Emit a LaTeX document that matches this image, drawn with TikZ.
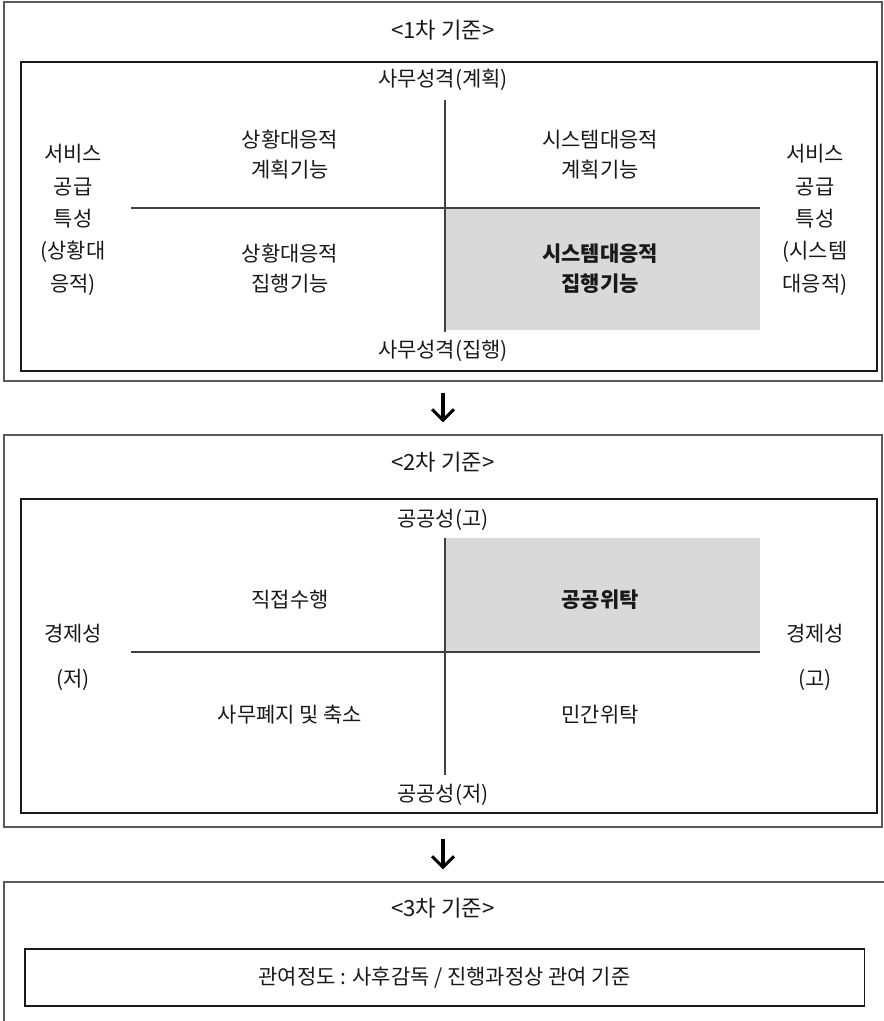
\documentclass[tikz,border=0pt]{standalone}
\usepackage{fontspec}
\setmainfont{Noto Sans CJK KR}
\usetikzlibrary{fit,arrows.meta}

\begin{document}
\begin{tikzpicture}[
        x=0.03cm, y=-0.03cm,
        every node/.style={font=\fontsize{17.9}{25.5}\selectfont, text=black!90},
        txt/.style={align=center, inner sep=0pt},
        strong/.style={txt, font=\fontsize{17.9}{25.5}\selectfont\bfseries},
        side/.style={txt, font=\fontsize{17.9}{27.6}\selectfont},
        econ/.style={txt, font=\fontsize{17.9}{38.3}\selectfont},
        outerbox/.style={draw=black!65, line width=1pt, inner sep=0pt},
        innerbox/.style={draw=black!90, line width=0.9pt, inner sep=0pt},
        axis/.style={draw=black!75, line width=0.9pt},
        shade/.style={fill=black!15},
        flow/.style={line width=2.6pt, -{Straight Barb[length=0.33cm, width=0.66cm]},
            shorten <=0.33cm, shorten >=0.36cm}
    ]
        \useasboundingbox (0,0) rectangle (883,1021);

        % first criterion
        \node[outerbox, fit={(4,2) (882,381)}] (stage1) {};
        \node[innerbox, fit={(21,62) (877,371)}] (grid1) {};
        \node[txt, font=\fontsize{19}{25.5}\selectfont] (title1) at (443,30) {<1차 기준>};
        \fill[shade] (445,208) rectangle (760,330);
        \draw[axis] (445,100) -- (445,332);
        \draw[axis] (131,208) -- (760,208);
        \node[txt] (plan) at (443,80) {사무성격(계획)};
        \node[txt] (exec) at (443,351) {사무성격(집행)};
        \node[txt] (sitplan) at (290,155) {상황대응적\\계획기능};
        \node[txt] (sysplan) at (600,155) {시스템대응적\\계획기능};
        \node[txt] (sitexec) at (290,269) {상황대응적\\집행기능};
        \node[strong] (sysexec) at (600,269) {시스템대응적\\집행기능};
        \node[side] (supsit) at (73,220) {서비스\\공급\\특성\\(상황대\\응적)};
        \node[side] (supsys) at (815,220) {서비스\\공급\\특성\\(시스템\\대응적)};

        % second criterion
        \node[outerbox, fit={(4,435) (882,827)}] (stage2) {};
        \node[innerbox, fit={(21,499) (877,813)}] (grid2) {};
        \node[txt, font=\fontsize{19}{25.5}\selectfont] (title2) at (443,462) {<2차 기준>};
        \fill[shade] (445,538) rectangle (760,652);
        \draw[axis] (445,538) -- (445,775);
        \draw[axis] (131,652) -- (760,652);
        \node[txt] (pubhigh) at (443,520) {공공성(고)};
        \node[txt] (publow) at (443,795) {공공성(저)};
        \node[txt] (direct) at (290,600) {직접수행};
        \node[strong] (pubtrust) at (600,600) {공공위탁};
        \node[txt] (abolish) at (290,715) {사무폐지 및 축소};
        \node[txt] (privtrust) at (600,715) {민간위탁};
        \node[econ] (econlow) at (73,657) {경제성\\(저)};
        \node[econ] (econhigh) at (815,657) {경제성\\(고)};

        % third criterion
        \node[outerbox, fit={(4,882) (895,1040)}] (stage3) {};
        \node[txt, font=\fontsize{19}{25.5}\selectfont] (title3) at (443,908) {<3차 기준>};
        \node[innerbox, minimum width=25.17cm, minimum height=1.71cm] (rule3)
            at (444.5,977.5) {관여정도 : 사후감독 / 진행과정상 관여 기준};

        % arrows between stages
        \draw[flow] (stage1.south) -- (stage2.north);
        \draw[flow] (stage2.south) -- (stage2.south |- stage3.north);
    \end{tikzpicture}
\end{document}
